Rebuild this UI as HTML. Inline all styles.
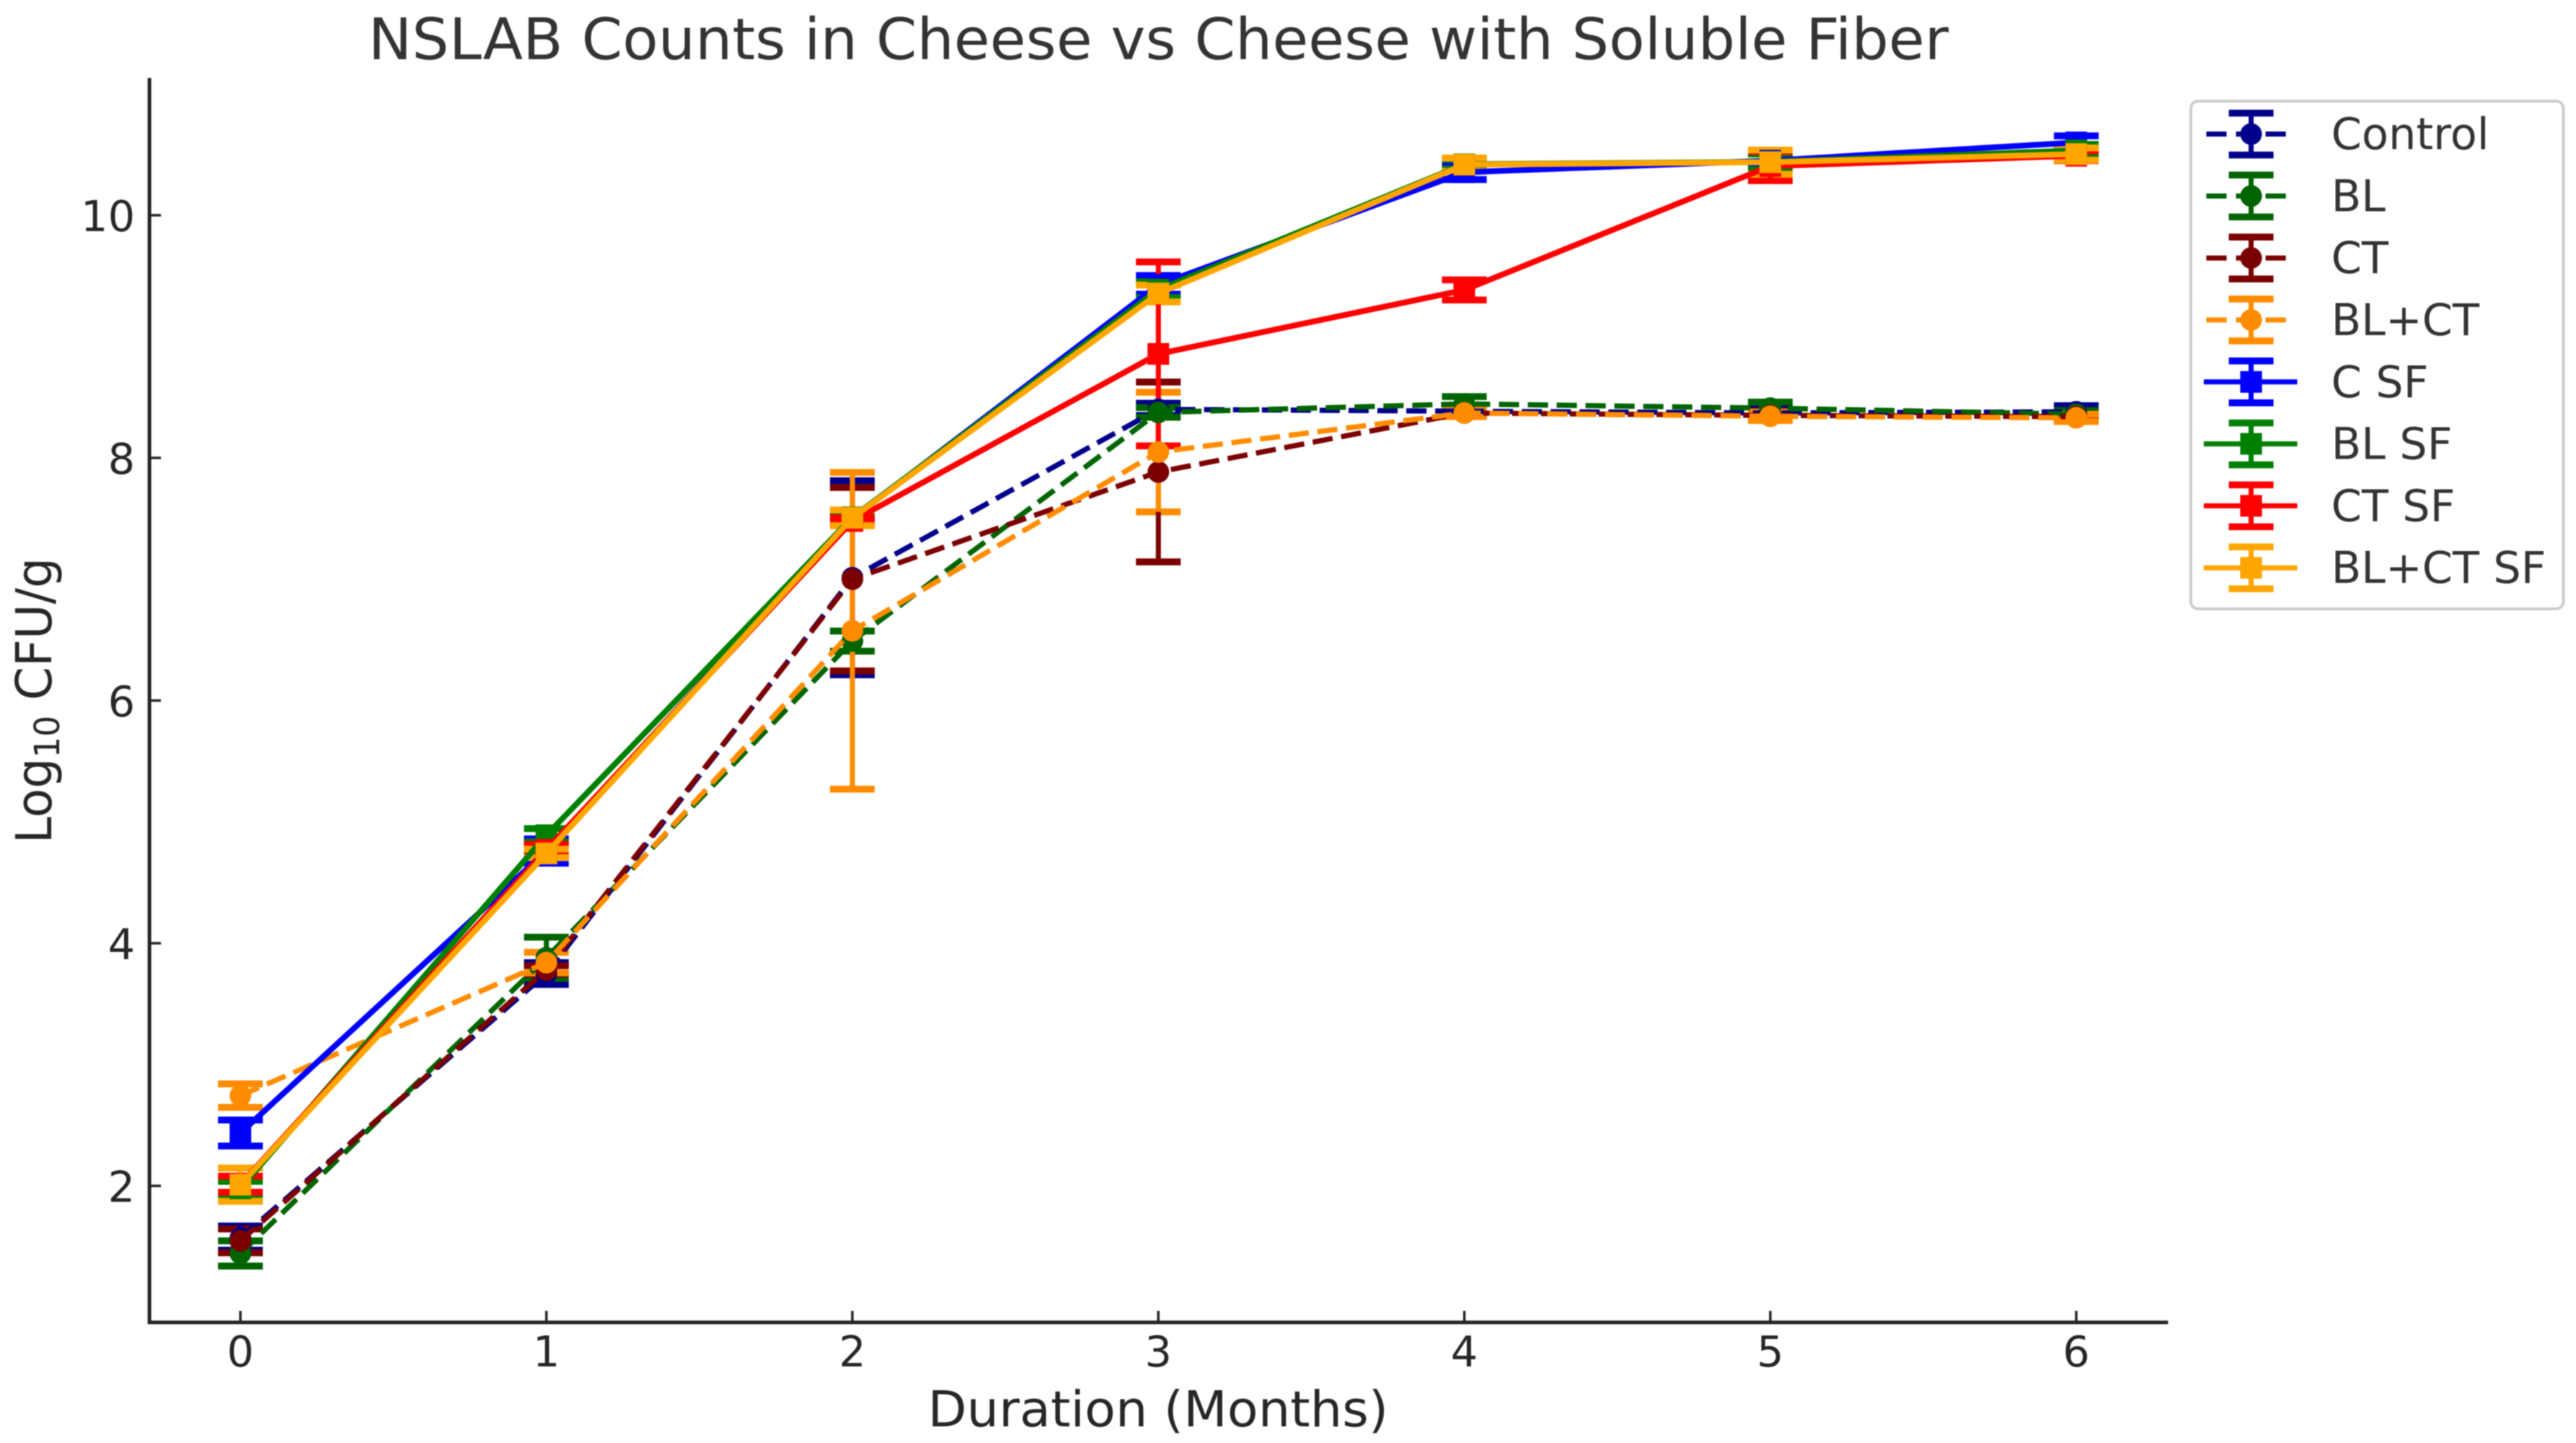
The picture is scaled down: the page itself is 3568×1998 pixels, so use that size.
<!DOCTYPE html>
<html lang="en">
<head>
<meta charset="utf-8">
<title>NSLAB Counts in Cheese vs Cheese with Soluble Fiber</title>
<style>
html,body{margin:0;padding:0;background:#fff;width:3568px;height:1998px;overflow:hidden}
svg{display:block;filter:blur(0.8px)}
text{font-family:"DejaVu Sans","Liberation Sans",sans-serif}
</style>
</head>
<body>
<svg id="chart" xmlns="http://www.w3.org/2000/svg" width="3568" height="1998" viewBox="0 0 3568 1998">
  <rect x="0" y="0" width="3568" height="1998" fill="#ffffff"/>
  <text x="510" y="82" font-size="79" fill="#333333" textLength="2189" lengthAdjust="spacingAndGlyphs">NSLAB Counts in Cheese vs Cheese with Soluble Fiber</text>
  <text transform="translate(71,1168) rotate(-90)" font-size="69" fill="#262626" textLength="396" lengthAdjust="spacingAndGlyphs">Log<tspan font-size="48" dy="11">10</tspan><tspan dy="-11"> CFU/g</tspan></text>
  <text x="1285" y="1975" font-size="69" fill="#262626" textLength="638" lengthAdjust="spacingAndGlyphs">Duration (Months)</text>
  <g id="axes"></g>
  <g id="caps"></g>
  <g id="bars"></g>
  <g id="lines"></g>
  <g id="legend"></g>
</svg>
<script>
var months = [0, 1, 2, 3, 4, 5, 6];
var xTicks = ['0', '1', '2', '3', '4', '5', '6'];
var yTicks = ['2', '4', '6', '8', '10'];

var seriesNames = ['Control', 'BL', 'CT', 'BL+CT', 'C SF', 'BL SF', 'CT SF', 'BL+CT SF'];

var controlValues = [1.57, 3.75, 7.012, 8.40, 8.385, 8.37, 8.38];
var controlErrors = [0.10, 0.09, 0.80, 0.05, 0.03, 0.04, 0.05];
var blValues = [1.443, 3.88, 6.49, 8.375, 8.445, 8.41, 8.36];
var blErrors = [0.104, 0.17, 0.083, 0.04, 0.06, 0.05, 0.03];
var ctValues = [1.547, 3.78, 7.0, 7.884, 8.37, 8.35, 8.34];
var ctErrors = [0.098, 0.035, 0.756, 0.741, 0.02, 0.035, 0.02];
var blCtValues = [2.744, 3.84, 6.575, 8.048, 8.37, 8.343, 8.33];
var blCtErrors = [0.097, 0.085, 1.305, 0.493, 0.03, 0.035, 0.03];
var cSfValues = [2.436, 4.76, 7.5, 9.426, 10.354, 10.45, 10.60];
var cSfErrors = [0.107, 0.10, 0.03, 0.077, 0.06, 0.06, 0.054];
var blSfValues = [1.98, 4.89, 7.51, 9.387, 10.42, 10.44, 10.534];
var blSfErrors = [0.057, 0.055, 0.02, 0.065, 0.04, 0.065, 0.05];
var ctSfValues = [2.014, 4.77, 7.48, 8.857, 9.384, 10.405, 10.49];
var ctSfErrors = [0.066, 0.045, 0.025, 0.758, 0.083, 0.12, 0.04];
var blCtSfValues = [2.01, 4.74, 7.506, 9.355, 10.417, 10.437, 10.504];
var blCtSfErrors = [0.137, 0.035, 0.065, 0.069, 0.055, 0.10, 0.05];

var seriesValues = [controlValues, blValues, ctValues, blCtValues, cSfValues, blSfValues, ctSfValues, blCtSfValues];
var seriesErrors = [controlErrors, blErrors, ctErrors, blCtErrors, cSfErrors, blSfErrors, ctSfErrors, blCtSfErrors];

var seriesColors = ['#00008b', '#006400', '#7b0000', '#ff8c00', '#0000ff', '#008000', '#ff0000', '#ffa500'];
var dashedFlags = [true, true, true, true, false, false, false, false];

var NS = 'http://www.w3.org/2000/svg';
function xScale(m) { return 333 + m * 423.8; }
function yScale(v) { return 298 + (10 - v) * 168; }

function make(tag, parent, attrs) {
  var el = document.createElementNS(NS, tag);
  for (var k in attrs) { el.setAttribute(k, attrs[k]); }
  parent.appendChild(el);
  return el;
}
function slug(s) { return s.toLowerCase().replace(/\+/g, '-').replace(/\s+/g, '-'); }

var axes = document.getElementById('axes');
var capsLayer = document.getElementById('caps');
var barsLayer = document.getElementById('bars');
var linesLayer = document.getElementById('lines');
var legend = document.getElementById('legend');
var inkColor = '#262626';

var leftSpine = make('line', axes, {x1: 207, x2: 207, y1: 108, y2: 1833.5, stroke: inkColor, 'stroke-width': 5});


var bottomSpine = make('line', axes, {x1: 204.5, x2: 3003, y1: 1831, y2: 1831, stroke: inkColor, 'stroke-width': 5});



xTicks.forEach(function (label) {
  var px = xScale(Number(label));
  var tick = make('line', axes, {x1: px, x2: px, y1: 1815, y2: 1831, stroke: inkColor, 'stroke-width': 3.5});
  
  
  var text = make('text', axes, {x: px, y: 1892, 'text-anchor': 'middle', 'font-size': 59, fill: inkColor});
  text.textContent = label;
  
  
});
yTicks.forEach(function (label) {
  var py = yScale(Number(label));
  var tick = make('line', axes, {x1: 207, x2: 223, y1: py, y2: py, stroke: inkColor, 'stroke-width': 3.5});
  
  
  var text = make('text', axes, {x: 187, y: py + 22, 'text-anchor': 'end', 'font-size': 59, fill: inkColor});
  text.textContent = label;
  
  
});

function drawCap(parent, px, py, color) {
  return make('line', parent, {x1: px - 31, x2: px + 31, y1: py, y2: py, stroke: color, 'stroke-width': 9.5});
}
function drawBar(parent, px, y1, y2, color) {
  return make('line', parent, {x1: px, x2: px, y1: y1, y2: y2, stroke: color, 'stroke-width': 7});
}
function drawMarker(parent, px, py, color, dashed) {
  if (dashed) {
    return make('circle', parent, {cx: px, cy: py, r: 15, fill: color});
  }
  return make('rect', parent, {x: px - 15, y: py - 15, width: 30, height: 30, fill: color});
}

seriesNames.forEach(function (name, s) {
  var color = seriesColors[s];
  months.forEach(function (m, i) {
    var px = xScale(m);
    var hi = yScale(seriesValues[s][i] + seriesErrors[s][i]);
    var lo = yScale(seriesValues[s][i] - seriesErrors[s][i]);
    var capTop = drawCap(capsLayer, px, hi, color);
    
    
    var capBottom = drawCap(capsLayer, px, lo, color);
    
    
    var bar = drawBar(barsLayer, px, hi, lo, color);
    
    
  });
});

seriesNames.forEach(function (name, s) {
  var color = seriesColors[s];
  var group = make('g', linesLayer, {});
  
  
  var pts = months.map(function (m, i) { return xScale(m) + ',' + yScale(seriesValues[s][i]); }).join(' ');
  var line = make('polyline', group, {points: pts, fill: 'none', stroke: color, 'stroke-width': dashedFlags[s] ? 7.2 : 8});
  if (dashedFlags[s]) { line.setAttribute('stroke-dasharray', '28 12'); }
  
  
  months.forEach(function (m, i) {
    var marker = drawMarker(group, xScale(m), yScale(seriesValues[s][i]), color, dashedFlags[s]);
    
    
  });
});

var legendBox = make('rect', legend, {x: 3034.5, y: 140, width: 516, height: 703, rx: 10, ry: 10, fill: '#ffffff', stroke: '#cccccc', 'stroke-width': 4});



seriesNames.forEach(function (name, s) {
  var color = seriesColors[s];
  var rowY = 185.6 + s * 85.8;
  var handleX = 3118;
  var entry = make('g', legend, {});
  
  
  var sample = make('line', entry, {x1: dashedFlags[s] ? 3056 : 3052.5, x2: dashedFlags[s] ? 3178 : 3182, y1: rowY, y2: rowY, stroke: color, 'stroke-width': 7});
  if (dashedFlags[s]) { sample.setAttribute('stroke-dasharray', '28 13'); }
  
  
  var capA = drawCap(entry, handleX, rowY - 29, color);
  
  
  var capB = drawCap(entry, handleX, rowY + 29, color);
  
  
  var stem = drawBar(entry, handleX, rowY - 29, rowY + 29, color);
  
  
  var mark = drawMarker(entry, handleX, rowY, color, dashedFlags[s]);
  
  
  var label = make('text', entry, {x: 3229, y: rowY + 21, 'font-size': 60.5, fill: '#333333'});
  label.textContent = name;
  
  
});
</script>
</body>
</html>
